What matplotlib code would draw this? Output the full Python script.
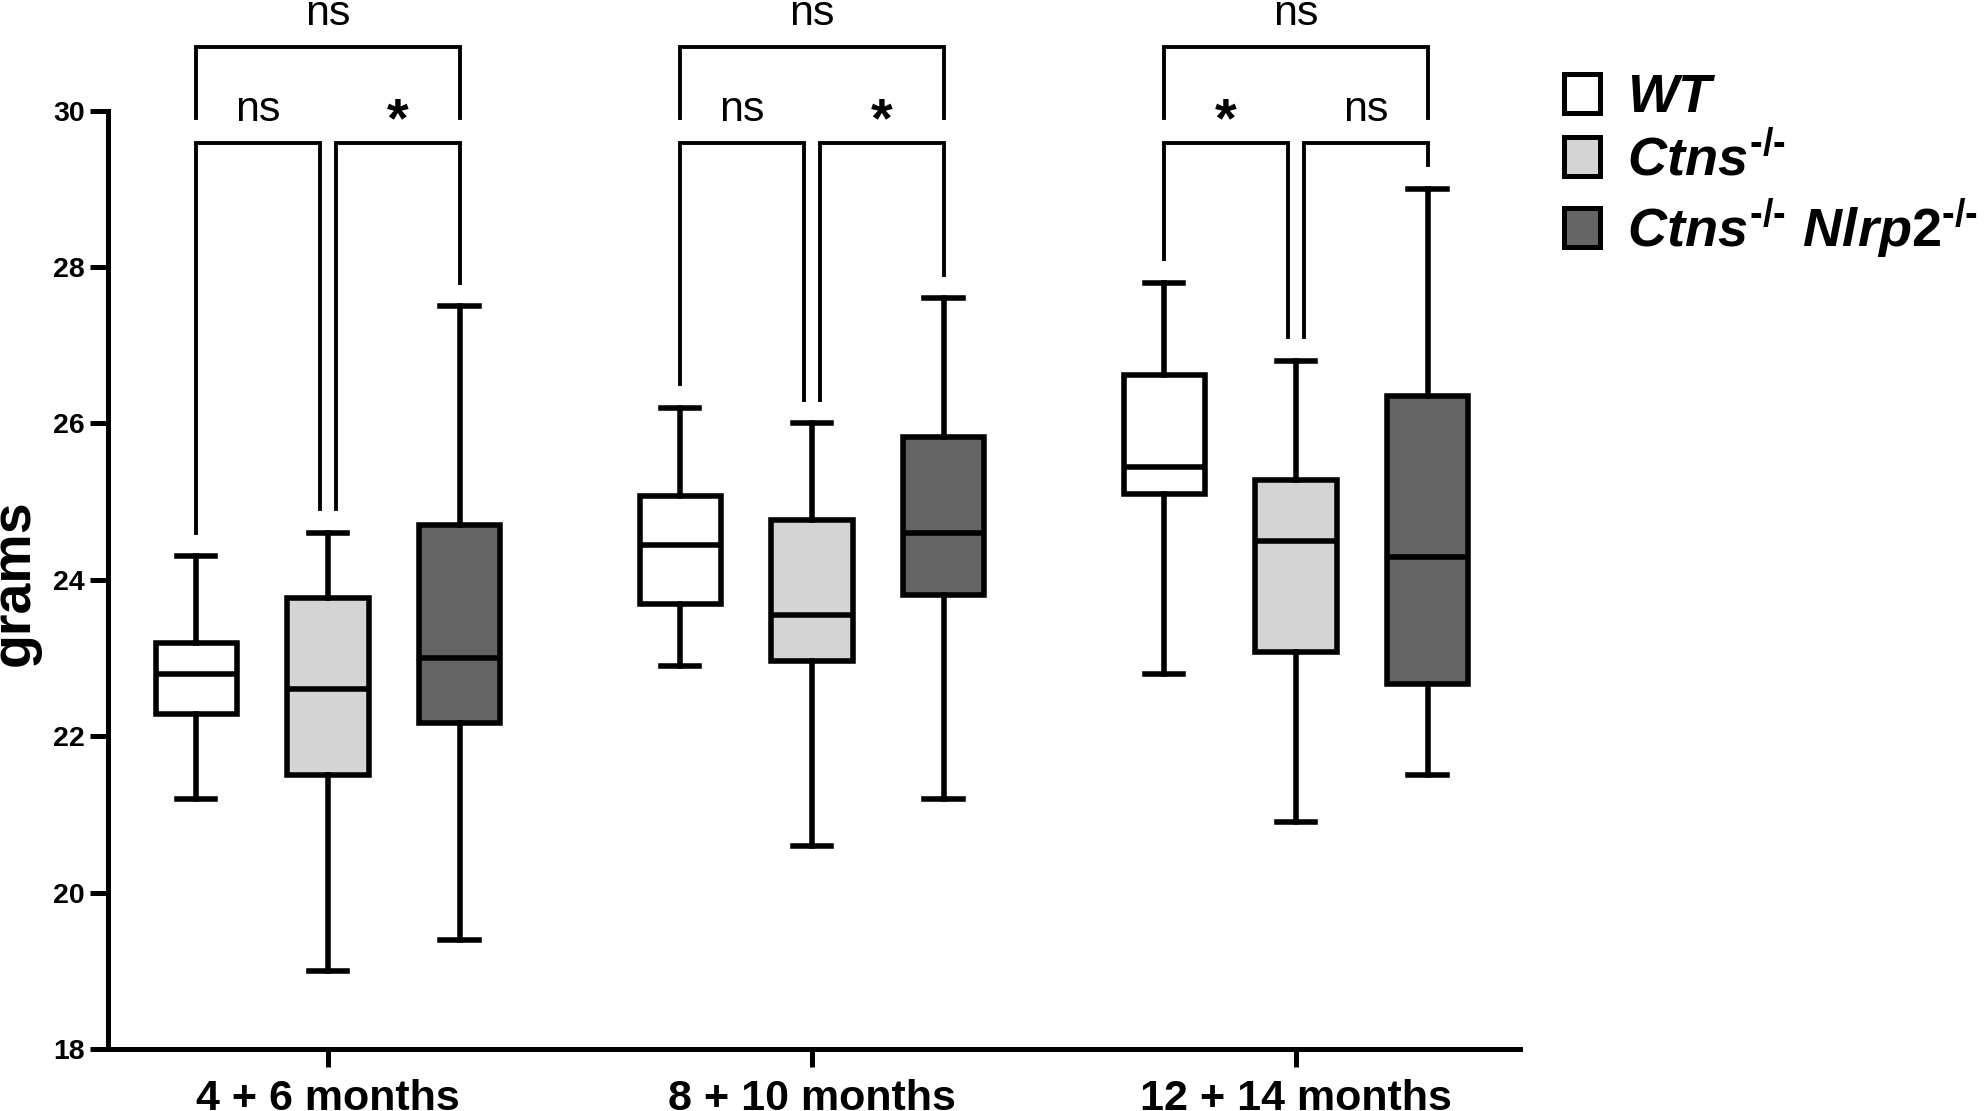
import matplotlib
matplotlib.use('Agg')
import matplotlib.pyplot as plt
from matplotlib.patches import Patch

plt.rcParams['font.family'] = ['Liberation Sans', 'DejaVu Sans']
plt.rcParams['mathtext.fontset'] = 'custom'
plt.rcParams['mathtext.it'] = 'Liberation Sans:italic:bold'
plt.rcParams['mathtext.rm'] = 'Liberation Sans:bold'
plt.rcParams['mathtext.bf'] = 'Liberation Sans:bold'

# data: per group (low whisker, q1, median, q3, high whisker)
groups = ['4 + 6 months', '8 + 10 months', '12 + 14 months']
wt = [(21.2, 22.28, 22.8, 23.19, 24.3),
      (22.9, 23.69, 24.45, 25.07, 26.2),
      (22.8, 25.1, 25.44, 26.62, 27.8)]
ctns = [(19.0, 21.5, 22.6, 23.77, 24.6),
        (20.6, 22.96, 23.55, 24.76, 26.0),
        (20.9, 23.08, 24.5, 25.27, 26.8)]
dko = [(19.4, 22.17, 23.0, 24.7, 27.5),
       (21.2, 23.8, 24.6, 25.83, 27.6),
       (21.5, 22.67, 24.29, 26.35, 29.0)]
sig_left = ['ns', 'ns', '*']    # WT vs Ctns
sig_right = ['*', '*', 'ns']    # Ctns vs Ctns Nlrp2
sig_top = ['ns', 'ns', 'ns']    # WT vs Ctns Nlrp2

ko = '\u2010/\u2010'
labels = ['WT', r'$\mathit{Ctns}^{\mathit{%s}}$' % ko,
          r'$\mathit{Ctns}^{\mathit{%s}}\ \mathit{Nlrp2}^{\mathit{%s}}$' % (ko, ko)]
colors = ['white', '#d4d4d4', '#646464']

fig = plt.figure(figsize=(19.84, 11.11), dpi=100)
ax = fig.add_axes([0.0543, 0.0558, 0.7118, 0.8447])

off = 0.272
lw_box = 4.0
for k, (series, col) in enumerate(zip([wt, ctns, dko], colors)):
    stats = []
    for lo, q1, med, q3, hi in series:
        stats.append(dict(whislo=lo, q1=q1, med=med, q3=q3, whishi=hi, fliers=[]))
    pos = [i + (k - 1) * off for i in range(len(series))]
    ax.bxp(stats, positions=pos, widths=0.168, capwidths=0.079,
           patch_artist=True, showfliers=False,
           boxprops=dict(facecolor=col, edgecolor='black', linewidth=lw_box),
           whiskerprops=dict(color='black', linewidth=lw_box),
           capprops=dict(color='black', linewidth=lw_box),
           medianprops=dict(color='black', linewidth=lw_box))

# significance brackets
br_low = 29.58
br_top = 30.81
top_leg = 29.90
leg_gap = 0.3
gap = 0.0165
blw = 2.8
for i in range(len(groups)):
    xw, xc, xd = i - off, i, i + off
    hw, hc, hd = wt[i][4] + leg_gap, ctns[i][4] + leg_gap, dko[i][4] + leg_gap
    ax.plot([xw, xw, xc - gap, xc - gap], [hw, br_low, br_low, hc],
            color='black', lw=blw, clip_on=False, solid_joinstyle='miter')
    ax.plot([xc + gap, xc + gap, xd, xd], [hc, br_low, br_low, hd],
            color='black', lw=blw, clip_on=False, solid_joinstyle='miter')
    ax.plot([xw, xw, xd, xd], [top_leg, br_top, br_top, top_leg],
            color='black', lw=blw, clip_on=False, solid_joinstyle='miter')
    for txt, xm in [(sig_left[i], (xw + xc - gap) / 2), (sig_right[i], (xc + gap + xd) / 2)]:
        if txt == '*':
            ax.text(xm, br_low + 0.09, '*', ha='center', va='baseline',
                    fontsize=40, fontweight='bold', clip_on=False)
        else:
            ax.text(xm, br_low + 0.28, txt, ha='center', va='baseline',
                    fontsize=31, clip_on=False)
    ax.text(xc, br_top + 0.29, sig_top[i], ha='center', va='baseline',
            fontsize=31, clip_on=False)

ax.set_xlim(-0.455, 2.463)
ax.set_ylim(18, 30)
ax.set_yticks([18, 20, 22, 24, 26, 28, 30])
ax.set_xticks(range(len(groups)))
ax.set_xticklabels(groups)
for s in ['top', 'right']:
    ax.spines[s].set_visible(False)
for s in ['left', 'bottom']:
    ax.spines[s].set_linewidth(3.6)
ax.tick_params(axis='both', width=3.6, length=12.7)
ax.tick_params(axis='y', labelsize=20.5, pad=3.8)
ax.tick_params(axis='x', labelsize=31, pad=9)
for t in ax.get_xticklabels() + ax.get_yticklabels():
    t.set_fontweight('bold')

fig.text(0.01436, 0.4757, 'grams', rotation=90, rotation_mode='anchor',
         ha='center', va='baseline', fontsize=40, fontweight='bold')

handles = [Patch(facecolor=c, edgecolor='black', linewidth=3.6) for c in colors]
fig.legend(handles, labels, loc='upper left', bbox_to_anchor=(0.7883, 0.934),
           frameon=False, borderpad=0, borderaxespad=0,
           handlelength=0.66, handleheight=0.73, handletextpad=0.5,
           labelspacing=0.2,
           prop=dict(size=39, weight='bold', style='italic'))

fig.savefig('out.png', dpi=100)
